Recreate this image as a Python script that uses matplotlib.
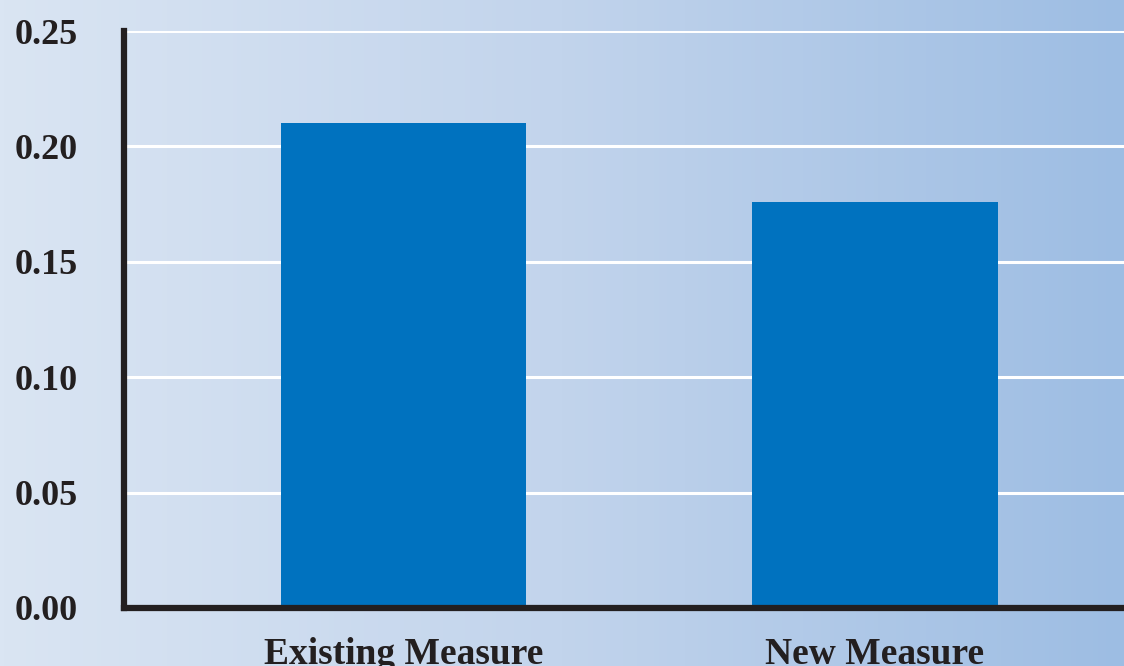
import matplotlib
matplotlib.use("Agg")
import matplotlib.pyplot as plt
import numpy as np
from matplotlib.colors import LinearSegmentedColormap

# data
categories = ["Existing Measure", "New Measure"]
values = [0.21, 0.176]
y_ticks = [0.00, 0.05, 0.10, 0.15, 0.20, 0.25]

plt.rcParams['font.family'] = ['Liberation Serif', 'DejaVu Serif']
plt.rcParams['font.weight'] = 'bold'

fig = plt.figure(figsize=(11.24, 6.66), dpi=100)

# gradient background, light on the left, darker blue on the right
bg = fig.add_axes([0, 0, 1, 1], zorder=-10)
cmap = LinearSegmentedColormap.from_list("bg", ["#dae5f3", "#c2d4ec", "#9dbde3"])
bg.imshow(np.linspace(0, 1, 256).reshape(1, -1), aspect="auto", cmap=cmap,
          extent=[0, 1, 0, 1])
bg.set_axis_off()

ax = fig.add_axes([124 / 1124, 58 / 666, 1000 / 1124, 577 / 666])
ax.patch.set_alpha(0)

x = np.arange(len(categories))
ax.bar(x, values, width=0.52, color="#0072bf", zorder=3)

ax.set_ylim(0, 0.25)
ax.set_xlim(-0.593, 1.528)
ax.set_yticks(y_ticks)
ax.set_yticklabels(["%.2f" % t for t in y_ticks])
ax.set_xticks(x)
ax.set_xticklabels(categories)

ax.yaxis.grid(True, color="white", linewidth=2.2, zorder=1)
ax.set_axisbelow(True)

for s in ["top", "right"]:
    ax.spines[s].set_visible(False)
for s in ["left", "bottom"]:
    ax.spines[s].set_linewidth(4.5)
    ax.spines[s].set_color("#231f20")
    ax.spines[s].set_zorder(5)

ax.tick_params(axis="y", length=0, pad=33, labelsize=26, labelcolor="#231f20")
ax.tick_params(axis="x", length=0, pad=21, labelsize=27, labelcolor="#231f20")

fig.savefig("out.png", dpi=100)
